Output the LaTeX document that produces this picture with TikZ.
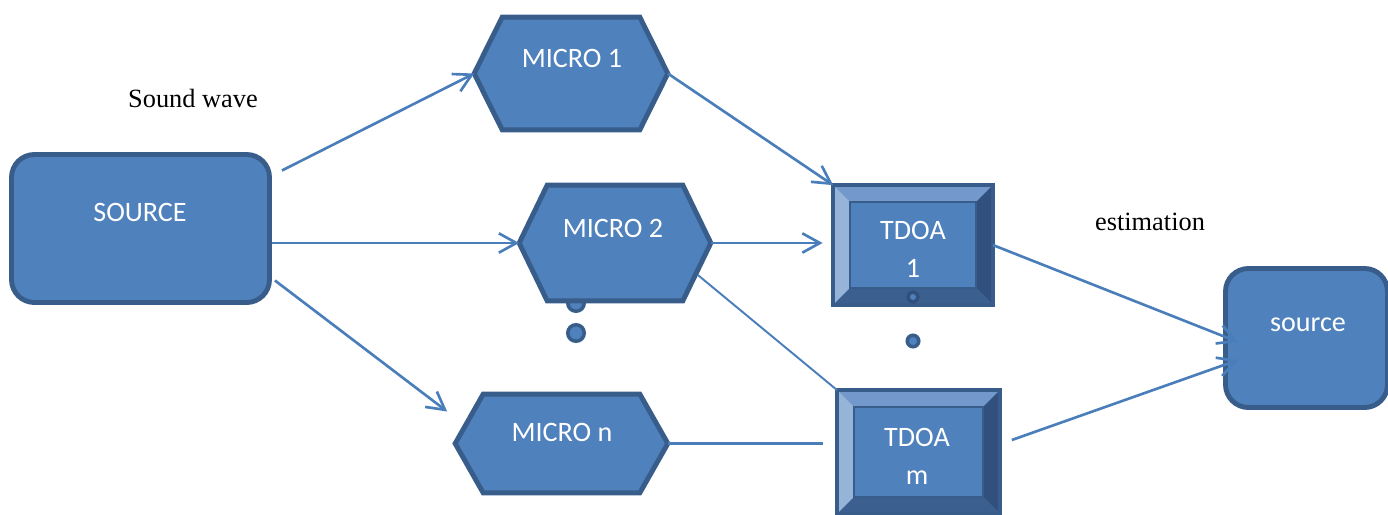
\documentclass[tikz,border=0pt]{standalone}
\usepackage{fontspec}
\setmainfont{Liberation Serif}
\newfontfamily\labelfont{Carlito}
\usepackage{xcolor}
\usetikzlibrary{arrows.meta, calc}
\definecolor{boxblue}{RGB}{79,129,189}
\definecolor{boxedge}{RGB}{56,93,138}
\definecolor{lineblue}{RGB}{74,126,187}
\definecolor{bevtop}{RGB}{115,153,204}
\definecolor{bevleft}{RGB}{150,180,216}
\definecolor{bevright}{RGB}{49,80,125}
\definecolor{bevbottom}{RGB}{59,96,144}

\tikzset{
  rbox/.style={draw=boxedge, fill=boxblue, line width=2.8pt, rounded corners=13pt, inner sep=0pt},
  hexa/.style={inner sep=0pt},
  hexpath/.style={draw=boxedge, fill=boxblue, line width=2.8pt},
  tdoa/.style={fill=boxblue, inner sep=0pt},
  lab/.style={text=white, font=\labelfont\fontsize{16}{22}\selectfont, align=center},
  plain/.style={font=\fontsize{15}{18}\selectfont},
  conn/.style={draw=lineblue, line width=1.5pt},
  arr/.style={conn, -{Straight Barb[length=10pt,width=11pt]}},
  dot/.style={circle, draw=boxedge, fill=boxblue, line width=2pt, inner sep=0pt},
}

\begin{document}
\begin{tikzpicture}[x=0.02cm, y=-0.02cm]
\useasboundingbox (0,0) rectangle (1388,514);

% Source
\node[rbox, minimum width=5.16cm, minimum height=2.96cm] (src) at (140.5,228.5) {};
\node[lab] (srct) at (140,212) {SOURCE};

% Hidden dots
\node[dot, minimum size=0.33cm] (d1) at (576,303) {};

% Microphones
\node[hexa, minimum width=3.86cm, minimum height=2.24cm] (m1) at (571,73.5) {};
\node[hexa, minimum width=3.82cm, minimum height=2.30cm] (m2) at (615,243) {};
\node[hexa, minimum width=4.24cm, minimum height=1.96cm] (mn) at (561.5,443.5) {};
\foreach \n in {m1,m2,mn}
  \path[hexpath] (\n.west) -- ($(\n.north west)+(28,0)$) -- ($(\n.north east)+(-28,0)$)
    -- (\n.east) -- ($(\n.south east)+(-28,0)$) -- ($(\n.south west)+(28,0)$) -- cycle;
\node[lab] (m1t) at (572,58) {MICRO 1};
\node[lab] (m2t) at (613,228) {MICRO 2};
\node[lab] (mnt) at (562,432) {MICRO n};
\node[dot, minimum size=0.33cm] (d2) at (576,333) {};

% TDOA blocks
\node[tdoa, minimum width=3.18cm, minimum height=2.38cm] (t1) at (913,245) {};
\node[tdoa, minimum width=3.24cm, minimum height=2.46cm] (t2) at (918.5,452) {};
\foreach \t in {t1,t2} {
  \fill[bevtop] (\t.north west) -- (\t.north east) -- ($(\t.north east)+(-17,17)$) -- ($(\t.north west)+(17,17)$) -- cycle;
  \fill[bevleft] (\t.north west) -- ($(\t.north west)+(17,17)$) -- ($(\t.south west)+(17,-17)$) -- (\t.south west) -- cycle;
  \fill[bevright] (\t.north east) -- ($(\t.north east)+(-17,17)$) -- ($(\t.south east)+(-17,-17)$) -- (\t.south east) -- cycle;
  \fill[bevbottom] (\t.south west) -- ($(\t.south west)+(17,-17)$) -- ($(\t.south east)+(-17,-17)$) -- (\t.south east) -- cycle;
  \draw[boxedge, line width=0.8pt] ($(\t.north west)+(17,17)$) rectangle ($(\t.south east)+(-17,-17)$);
  \draw[boxedge, line width=2.4pt] (\t.north west) rectangle (\t.south east);
}
\node[dot, draw=bevright, minimum size=0.2cm] (d4) at (913,297) {};
\node[lab] (t1t) at (913,249.5) {TDOA\\1};
\node[lab] (t2t) at (917,456.5) {TDOA\\m};
\node[dot, minimum size=0.23cm] (d3) at (913,341) {};

% Estimated source
\node[rbox, minimum width=3.24cm, minimum height=2.78cm] (src2) at (1306.5,338) {};
\node[lab] (src2t) at (1308,325) {source};

% Labels
\node[plain] (wave) at (193,98) {Sound wave};
\node[plain] (est) at (1150,222) {estimation};

% Connectors
\draw[arr] ($(src.east)+(10,-58)$) -- (m1.west);
\draw[arr] (src.east |- m2.west) -- (m2.west);
\draw[arr] ($(src.east)+(3,52)$) -- ($(mn.west)+(-8,-32)$);
\draw[arr] (m1.east) -- (t1.north west);
\draw[arr, shorten >=6pt] (m2.east) -- (t1.west |- m2.east);
\draw[conn, line width=1.1pt] ($(m2.east)+(-13,32)$) -- (t2.north west);
\draw[conn, shorten >=8pt] (mn.east) -- (t2.west |- mn.east);
\draw[arr] (t1.east) -- ($(src2.west)+(15,4)$);
\draw[arr] ($(t2.east)+(12,-12)$) -- ($(src2.west)+(15,22)$);
\end{tikzpicture}
\end{document}
